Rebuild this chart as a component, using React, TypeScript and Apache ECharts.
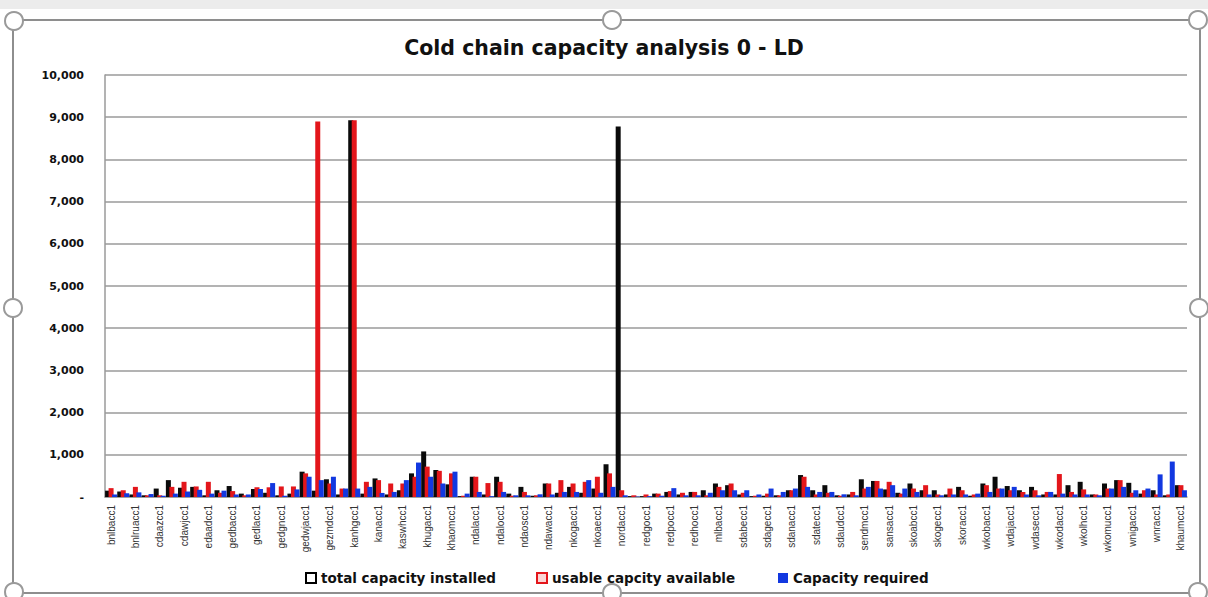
import React, { useEffect, useRef } from "react";
import * as echarts from "echarts";

const labels = [
  "bnlbacc1", "bnlruacc1", "cdaazcc1", "cdawjcc1", "edaadcc1", "gedbacc1", "gedlacc1", "gedgncc1",
  "gedwjacc1", "gezmdcc1", "kanhgcc1", "kanacc1", "kaswhcc1", "khugacc1", "khaomcc1", "ndalacc1",
  "ndalocc1", "ndaoscc1", "ndawacc1", "nkogacc1", "nkoaecc1", "nordacc1", "redgocc1", "redpocc1",
  "redhocc1", "mlbacc1", "sdabecc1", "sdagecc1", "sdanacc1", "sdatecc1", "sdaudcc1", "sendmcc1",
  "sansacc1", "skoabcc1", "skogecc1", "skoracc1", "wkobacc1", "wdajacc1", "wdasecc1", "wkodacc1",
  "wkolhcc1", "wkomucc1", "wnigacc1", "wnracc1", "khaumcc1",
];

// every other category label is hidden in the chart (interval 1)
const categories: string[] = [];
labels.forEach((l, i) => {
  categories.push(l);
  if (i < labels.length - 1) categories.push(l + " ");
});

const totalInstalled = [
  150, 130, 60, 40, 200, 400, 220, 240, 40, 160, 260, 80, 190, 100, 40, 80, 600, 150, 420, 60,
  8930, 80, 440, 60, 160, 560, 1080, 640, 300, 20, 480, 60, 480, 80, 240, 30, 320, 100, 240, 100,
  200, 776, 8780, 20, 20, 80, 120, 60, 120, 160, 320, 280, 60, 20, 30, 40, 160, 520, 160, 280,
  40, 60, 420, 380, 180, 100, 320, 160, 160, 60, 240, 30, 320, 480, 260, 160, 240, 60, 60, 280,
  360, 60, 320, 400, 336, 80, 160, 40, 280,
];

const usableAvailable = [
  210, 160, 240, 40, 40, 240, 360, 250, 360, 100, 140, 40, 230, 230, 250, 250, 560, 8900, 320, 200,
  8930, 360, 400, 320, 320, 480, 720, 620, 560, 30, 480, 330, 360, 30, 120, 40, 320, 400, 320, 360,
  480, 560, 160, 40, 60, 80, 140, 100, 120, 40, 240, 320, 100, 30, 80, 40, 160, 480, 60, 100,
  30, 120, 200, 380, 360, 80, 200, 280, 60, 200, 160, 60, 280, 200, 160, 120, 160, 120, 544, 120,
  180, 60, 200, 400, 100, 160, 60, 60, 280,
];

const capacityRequired = [
  60, 90, 110, 70, 30, 80, 130, 170, 80, 150, 60, 60, 190, 330, 30, 180, 480, 400, 480, 200,
  200, 240, 96, 120, 400, 816, 480, 320, 600, 80, 120, 20, 120, 40, 40, 64, 60, 120, 120, 400,
  100, 240, 40, 10, 20, 30, 210, 40, 40, 100, 160, 160, 160, 60, 200, 120, 200, 240, 120, 120,
  64, 40, 240, 200, 280, 200, 120, 60, 40, 60, 60, 80, 120, 200, 240, 60, 40, 120, 80, 60,
  60, 40, 200, 240, 160, 200, 536, 840, 160,
];

const seriesNames = ["total capacity installed", "usable capcity available", "Capacity required"];
const BLACK = "#0a0a0a";
const RED = "#e3161b";
const BLUE = "#1238e0";

export default function App() {
  const ref = useRef<HTMLDivElement>(null);

  useEffect(() => {
    if (!ref.current) return;
    const chart = echarts.init(ref.current, undefined, { renderer: "svg" });
    const handle = (x: number, y: number) => ({
      type: "circle",
      shape: { cx: x, cy: y, r: 9 },
      style: { fill: "#fff", stroke: "#9a9a9a", lineWidth: 2 },
      z: 100,
    });
    const legendBase = {
      orient: "horizontal",
      top: 566,
      itemWidth: 10,
      itemHeight: 10,
      itemGap: 5,
      textStyle: { fontFamily: "DejaVu Sans", fontWeight: "bold", fontSize: 13.5, color: "#111" },
    };
    const bar = (name: string, data: number[], color: string) => ({
      name,
      type: "bar",
      data,
      barWidth: 5,
      barGap: "-30%",
      itemStyle: { color },
    });
    chart.setOption({
      animation: false,
      backgroundColor: "#ffffff",
      title: {
        text: "Cold chain capacity analysis 0 - LD",
        left: "center",
        top: 32,
        textStyle: { fontFamily: "DejaVu Sans", fontWeight: "bold", fontSize: 20.5, color: "#111" },
      },
      graphic: [
        { type: "rect", shape: { x: 0, y: 0, width: 1208, height: 9 }, style: { fill: "#ececec" } },
        {
          type: "rect",
          shape: { x: 13, y: 20, width: 1187, height: 573 },
          style: { fill: "none", stroke: "#8e8e8e", lineWidth: 2 },
          z: 99,
        },
        handle(14, 21),
        handle(612, 20),
        handle(1198, 20),
        handle(13, 308),
        handle(1199, 308),
        handle(14, 592),
        handle(612, 593),
        handle(1198, 592),
      ],
      legend: [
        {
          ...legendBase,
          left: 300,
          data: [
            {
              name: seriesNames[0],
              icon: "rect",
              itemStyle: { color: "#ffffff", borderColor: "#000000", borderWidth: 2 },
            },
          ],
        },
        {
          ...legendBase,
          left: 531,
          data: [
            {
              name: seriesNames[1],
              icon: "rect",
              itemStyle: { color: "#fbd5d5", borderColor: RED, borderWidth: 2 },
            },
          ],
        },
        {
          ...legendBase,
          left: 773,
          data: [{ name: seriesNames[2], icon: "rect", itemStyle: { color: BLUE } }],
        },
      ],
      grid: { left: 105, right: 21, top: 75, bottom: 100, containLabel: false },
      xAxis: {
        type: "category",
        data: categories,
        axisLine: { show: true, lineStyle: { color: "#9a9a9a", width: 1.5 } },
        axisTick: { show: false },
        axisLabel: {
          interval: 1,
          rotate: 90,
          margin: 8,
          fontFamily: "Liberation Sans",
          fontSize: 10,
          color: "#333",
        },
      },
      yAxis: {
        type: "value",
        min: 0,
        max: 10000,
        interval: 1000,
        axisLine: { show: true, lineStyle: { color: "#9a9a9a", width: 1.5 } },
        axisTick: { show: false },
        splitLine: { lineStyle: { color: "#9a9a9a", width: 1.5 } },
        axisLabel: {
          margin: 21,
          fontFamily: "DejaVu Sans",
          fontWeight: "bold",
          fontSize: 11,
          color: "#111",
          formatter: (v: number) => (v === 0 ? "-" : v.toLocaleString("en-US")),
        },
      },
      series: [
        bar(seriesNames[0], totalInstalled, BLACK),
        bar(seriesNames[1], usableAvailable, RED),
        bar(seriesNames[2], capacityRequired, BLUE),
      ],
    });
    return () => chart.dispose();
  }, []);

  return (
    <div
      ref={ref}
      style={{ position: "absolute", left: 0, top: 0, width: 1208, height: 597 }}
    />
  );
}
